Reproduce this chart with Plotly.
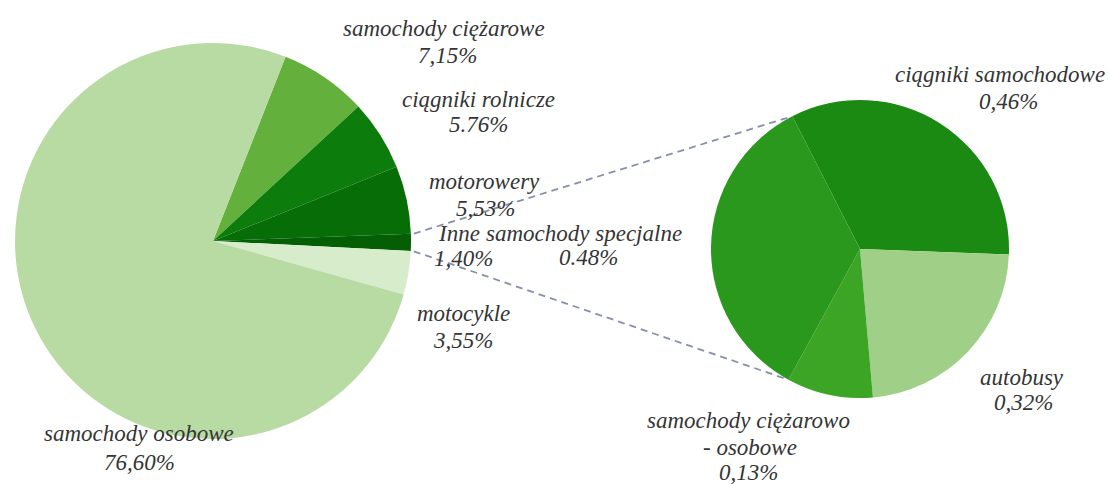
import math
import plotly.graph_objects as go

# ---------------- data ----------------
main_labels = ["samochody ciężarowe", "ciągniki rolnicze", "motorowery", "Inne",
               "motocykle", "samochody osobowe"]
main_values = [7.15, 5.76, 5.53, 1.40, 3.55, 76.60]
main_pct_text = ["7,15%", "5.76%", "5,53%", "1,40%", "3,55%", "76,60%"]

sub_labels = ["ciągniki samochodowe", "autobusy", "samochody ciężarowo<br>- osobowe",
              "samochody specjalne"]
sub_values = [0.46, 0.32, 0.13, 0.48]
sub_pct_text = ["0,46%", "0,32%", "0,13%", "0.48%"]

# ---------------- style / layout ----------------
W, H = 1109, 484
main_colors = ["#64b03c", "#0c7c0c", "#076e07", "#045f04", "#d6ecca", "#b8dba3"]
sub_colors = ["#1b8a13", "#a0d087", "#3ca526", "#2a981c"]

main_c, main_r, main_rot = (213, 241), 198, 21.5
sub_c, sub_r, sub_rot = (860, 249), 149, -27

# label line centres (px), one per text line (name lines..., pct)
main_pos = {
    "samochody ciężarowe": [(444, 28), (447, 55)],
    "ciągniki rolnicze": [(478, 99), (478, 125)],
    "motorowery": [(484, 182), (485, 208)],
    "Inne": [(459, 233), (463, 258)],
    "motocykle": [(463, 313), (463, 340)],
    "samochody osobowe": [(139, 433), (139, 462)],
}
sub_pos = {
    "ciągniki samochodowe": [(1000, 75), (1008, 102)],
    "autobusy": [(1022, 377), (1023, 402)],
    "samochody ciężarowo<br>- osobowe": [(748, 420), (750, 447), (748, 472)],
    "samochody specjalne": [(584, 233), (588, 257)],
}

FONT = "Liberation Serif, Times New Roman, serif"
TXT = "#353535"


def dom(c, r):
    x = [(c[0] - r) / W, (c[0] + r) / W]
    y = [(H - c[1] - r) / H, (H - c[1] + r) / H]
    return dict(x=x, y=y)


fig = go.Figure()
fig.add_trace(go.Pie(labels=main_labels, values=main_values, sort=False,
                     direction="clockwise", rotation=main_rot,
                     marker=dict(colors=main_colors, line=dict(width=0)),
                     textinfo="none", hoverinfo="label+percent",
                     domain=dom(main_c, main_r)))
fig.add_trace(go.Pie(labels=sub_labels, values=sub_values, sort=False,
                     direction="clockwise", rotation=sub_rot,
                     marker=dict(colors=sub_colors, line=dict(width=0)),
                     textinfo="none", hoverinfo="label+percent",
                     domain=dom(sub_c, sub_r)))


def pt(c, r, ang):
    a = math.radians(ang)
    return c[0] + r * math.sin(a), c[1] - r * math.cos(a)


# connector lines: from the "Inne" slice edges to the secondary pie
tot = sum(main_values)
idx = main_labels.index("Inne")
a0 = main_rot + sum(main_values[:idx]) / tot * 360
a1 = a0 + main_values[idx] / tot * 360
p_top_l = pt(main_c, main_r + 3, a0)
p_bot_l = pt(main_c, main_r + 3, a1)
stot = sum(sub_values)
p_top_r = pt(sub_c, sub_r, sub_rot)
p_bot_r = pt(sub_c, sub_r, sub_rot + sum(sub_values[:3]) / stot * 360)

shapes = []
for (xa, ya), (xb, yb) in [(p_top_l, p_top_r), (p_bot_l, p_bot_r)]:
    shapes.append(dict(type="line", xref="paper", yref="paper",
                       x0=xa / W, y0=1 - ya / H, x1=xb / W, y1=1 - yb / H,
                       line=dict(color="#8690a8", width=1.8, dash="7px,5px")))

annotations = []
for labels, pcts, pos in [(main_labels, main_pct_text, main_pos),
                          (sub_labels, sub_pct_text, sub_pos)]:
    for lab, pc in zip(labels, pcts):
        lines = lab.split("<br>") + [pc]
        for txt, (x, y) in zip(lines, pos[lab]):
            annotations.append(dict(
                text="<i>" + txt + "</i>",
                x=x / W, y=1 - y / H, xref="paper", yref="paper",
                xanchor="center", yanchor="middle", showarrow=False,
                font=dict(family=FONT, size=23, color=TXT)))

fig.update_layout(width=W, height=H, margin=dict(l=0, r=0, t=0, b=0),
                  showlegend=False, paper_bgcolor="white", plot_bgcolor="white",
                  shapes=shapes, annotations=annotations)

fig.write_html("out.html", config={"displayModeBar": False},
               post_script="document.body.style.margin='0px';document.body.style.overflow='hidden';")
